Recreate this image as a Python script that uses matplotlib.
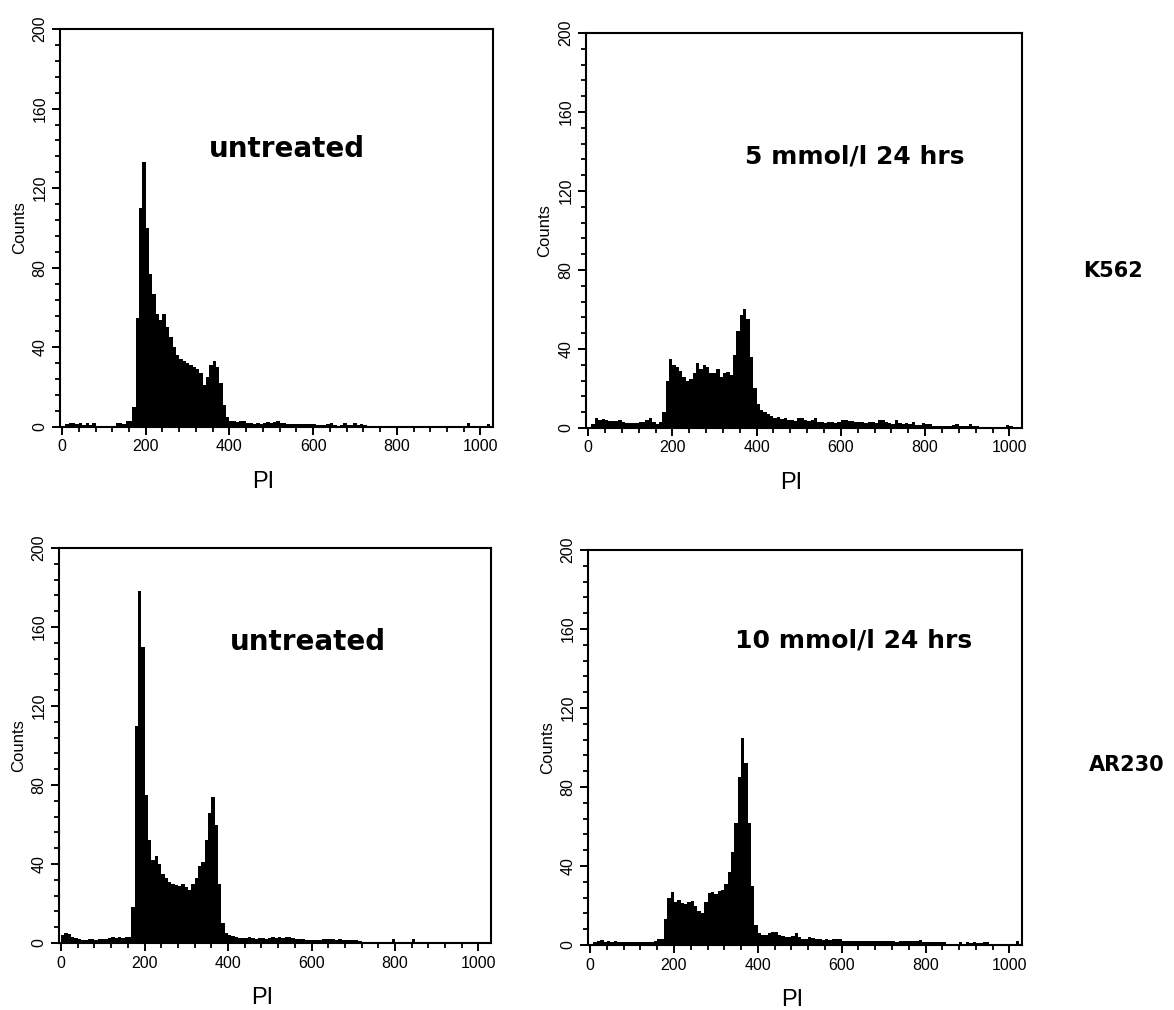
import numpy as np
import matplotlib
matplotlib.use("Agg")
import matplotlib.pyplot as plt
from matplotlib.ticker import MultipleLocator

# ---- data: counts per 8-channel PI bin (channels 0..1023) ----
bin_width = 8
k562_untreated = [
    0, 1.5, 2, 2, 1.5, 2, 1, 2, 1, 2, 0.5, 0.5, 0.3, 0.3, 0.5, 0.5,
    2, 2, 1.5, 3, 3, 10, 55, 110, 133, 100, 77, 67, 57, 54, 57, 50,
    45, 40, 36, 34, 33, 32, 31, 30, 29, 27, 21, 25, 31, 33, 30, 22,
    11, 5, 3, 3, 2.5, 3, 3, 2, 2, 1.5, 2, 1.5, 2, 2.5, 2, 2.5,
    3, 2, 2, 1.5, 1.5, 1.5, 1.5, 1.5, 1.5, 1.5, 1.5, 1.5, 1, 1, 1, 1.5,
    2, 1, 0.5, 1, 2, 1, 1, 2, 1, 1.5, 1, 0.3, 0.3, 0.3, 0.3, 0.3,
    0.3, 0.3, 0.3, 0.3, 0.3, 0.3, 0.3, 0.3, 0.3, 0.3, 0.3, 0.3, 0.3, 0.3, 0.3, 0.3,
    0.3, 0.3, 0.3, 0.3, 0.3, 0.3, 0.3, 0.3, 0.3, 2, 0.5, 0.3, 0.3, 0.3, 0.3, 1.5,
]
k562_5mm = [
    0, 2, 5, 4, 4.5, 4, 3.5, 3.5, 3.5, 4, 3, 2.5, 2.5, 2.5, 2.5, 3,
    3, 4, 5, 3, 2, 3, 8, 24, 35, 32, 31, 29, 26, 24, 25, 28,
    33, 30, 32, 31, 28, 28, 30, 26, 28, 28.5, 27, 37, 49, 57, 60, 55,
    36, 20, 12, 9, 8, 7, 6, 5, 5.5, 4.5, 5, 4, 4, 3.5, 5, 5,
    4, 3.5, 4, 5, 3, 3, 2.5, 3, 3, 2.5, 3, 4, 4, 3.5, 3.5, 3,
    3, 3, 2.5, 3, 3, 2.5, 4, 4, 3, 2.5, 2, 4, 2.5, 2, 2.5, 2,
    3, 1.5, 1.5, 2.5, 2, 2, 1, 1, 1, 1, 1, 1, 1.5, 2, 1, 1,
    1, 2, 1, 1, 0.5, 0.5, 0.5, 0.5, 0.5, 0.5, 0.5, 0.5, 1.5, 1, 0.5, 0.5,
]
ar230_untreated = [
    4, 5, 4.5, 3, 2.5, 2, 1.5, 1.5, 2, 2, 1.5, 2, 2, 2, 2.5, 3,
    2.5, 3, 2.5, 3, 3, 18, 110, 178, 150, 75, 52, 42, 44, 40, 35, 33,
    31, 30, 29.5, 29, 30, 28.5, 27, 30, 33, 39, 41, 52, 66, 74, 60, 30,
    10, 5, 4, 3.5, 3, 2.5, 2.5, 2.5, 3, 2.5, 2, 2.5, 2.5, 2, 2.5, 3,
    2.5, 3, 2.5, 3, 3, 2.5, 2, 2, 2, 1.5, 1.5, 1.5, 1.5, 1.5, 2, 2,
    2, 2, 1.5, 2, 1.5, 1.5, 1.5, 1.5, 1.5, 1, 0.5, 0.5, 0.5, 0.5, 0.5, 0.5,
    0.5, 0.5, 0.5, 2, 0.5, 0.5, 0.5, 0.5, 0.5, 2, 0.3, 0.3, 0.3, 0.3, 0.3, 0.3,
    0.3, 0.3, 0.3, 0.3, 0.3, 0.3, 0.3, 0.3, 0.3, 0.3, 0.3, 0.3, 0.3, 0.3, 0.3, 0.3,
]
ar230_10mm = [
    0.5, 1.5, 2, 2.5, 1.5, 2, 1.5, 2, 1.5, 1.5, 1.5, 1.5, 1.5, 1.5, 1.5, 1.5,
    1.5, 1.5, 1.5, 2, 3, 3, 13, 24, 27, 22, 23, 21.5, 21, 22, 22.5, 19.5,
    17, 16, 22, 26.5, 27, 26, 27.5, 28, 31, 37, 47, 62, 85, 105, 92, 62,
    30, 10, 6, 5, 5, 6, 6.5, 6.5, 5, 4.5, 4, 4, 4.5, 6, 4, 3,
    3, 4, 3.5, 3, 3, 2.5, 3, 2.5, 3, 3, 3, 2, 2, 2, 2, 2,
    2, 2, 2, 2, 2, 2, 2, 2, 2, 2, 2, 1.5, 2, 2, 2, 2,
    2, 2, 2.5, 1.5, 1.5, 1.5, 1.5, 1.5, 1.5, 1.5, 0.5, 0.5, 0.5, 0.5, 1.5, 0.5,
    1.5, 1, 1.5, 1, 1, 1.5, 1.5, 0.3, 0.3, 0.3, 0.3, 0.3, 0.3, 0.3, 0.3, 2,
]
panel_labels = ["untreated", "5 mmol/l 24 hrs", "untreated", "10 mmol/l 24 hrs"]
row_labels = ["K562", "AR230"]
x_ticks = [0, 200, 400, 600, 800, 1000]
y_ticks = [0, 40, 80, 120, 160, 200]

W, H = 1174, 1010
fig = plt.figure(figsize=(W / 100, H / 100), dpi=100)

# panel boxes in pixels: left, right, top, bottom
boxes = [(60, 493, 29, 427), (586, 1022, 33, 428),
         (59, 491, 548, 943), (588, 1022, 550, 945)]
series = [k562_untreated, k562_5mm, ar230_untreated, ar230_10mm]
label_pos = [(537, 135.7), (634, 134), (592, 148.4), (628, 150.4)]
label_fonts = [("DejaVu Sans", 20), ("DejaVu Sans", 18),
               ("DejaVu Sans", 20), ("DejaVu Sans", 18)]

tick_font = "Liberation Sans"

for (l, r, t, b), vals, text, pos, (fam, fs) in zip(boxes, series, panel_labels, label_pos, label_fonts):
    ax = fig.add_axes([l / W, 1 - b / H, (r - l) / W, (b - t) / H])
    vals = np.asarray(vals, dtype=float)
    edges = np.arange(len(vals) + 1) * bin_width
    ax.stairs(vals, edges, fill=True, color="black", baseline=0, linewidth=0)
    ax.set_xlim(-5, 1030)
    ax.set_ylim(0, 200)
    ax.set_xticks(x_ticks)
    ax.set_yticks(y_ticks)
    ax.xaxis.set_minor_locator(MultipleLocator(40))
    ax.yaxis.set_minor_locator(MultipleLocator(8))
    for sp in ax.spines.values():
        sp.set_linewidth(1.5)
    ax.tick_params(which="major", direction="out", length=6, width=1.4,
                   labelsize=11.5, pad=3)
    ax.tick_params(which="minor", direction="out", length=3.5, width=1.3)
    ax.tick_params(axis="y", labelrotation=90)
    for lab in ax.get_yticklabels():
        lab.set_va("center")
        lab.set_fontfamily(tick_font)
    for lab in ax.get_xticklabels():
        lab.set_fontfamily(tick_font)
    ax.set_ylabel("Counts", fontsize=12, fontfamily=tick_font)
    ax.yaxis.label.set_va("center")
    ax.yaxis.set_label_coords(-0.094, 0.5)
    ax.set_xlabel("PI", fontsize=17, fontfamily=tick_font)
    ax.xaxis.label.set_va("center")
    ax.xaxis.set_label_coords(0.47, -0.138)
    ax.text(pos[0], pos[1], text, ha="center", va="baseline",
            fontsize=fs, fontweight="bold", fontfamily=fam)

fig.text(1113 / W, 1 - 271 / H, row_labels[0], ha="center", va="center",
         fontsize=15, fontweight="bold", fontfamily="DejaVu Sans")
fig.text(1127 / W, 1 - 765 / H, row_labels[1], ha="center", va="center",
         fontsize=15, fontweight="bold", fontfamily="DejaVu Sans")

fig.savefig("out.png", dpi=100, facecolor="white")
